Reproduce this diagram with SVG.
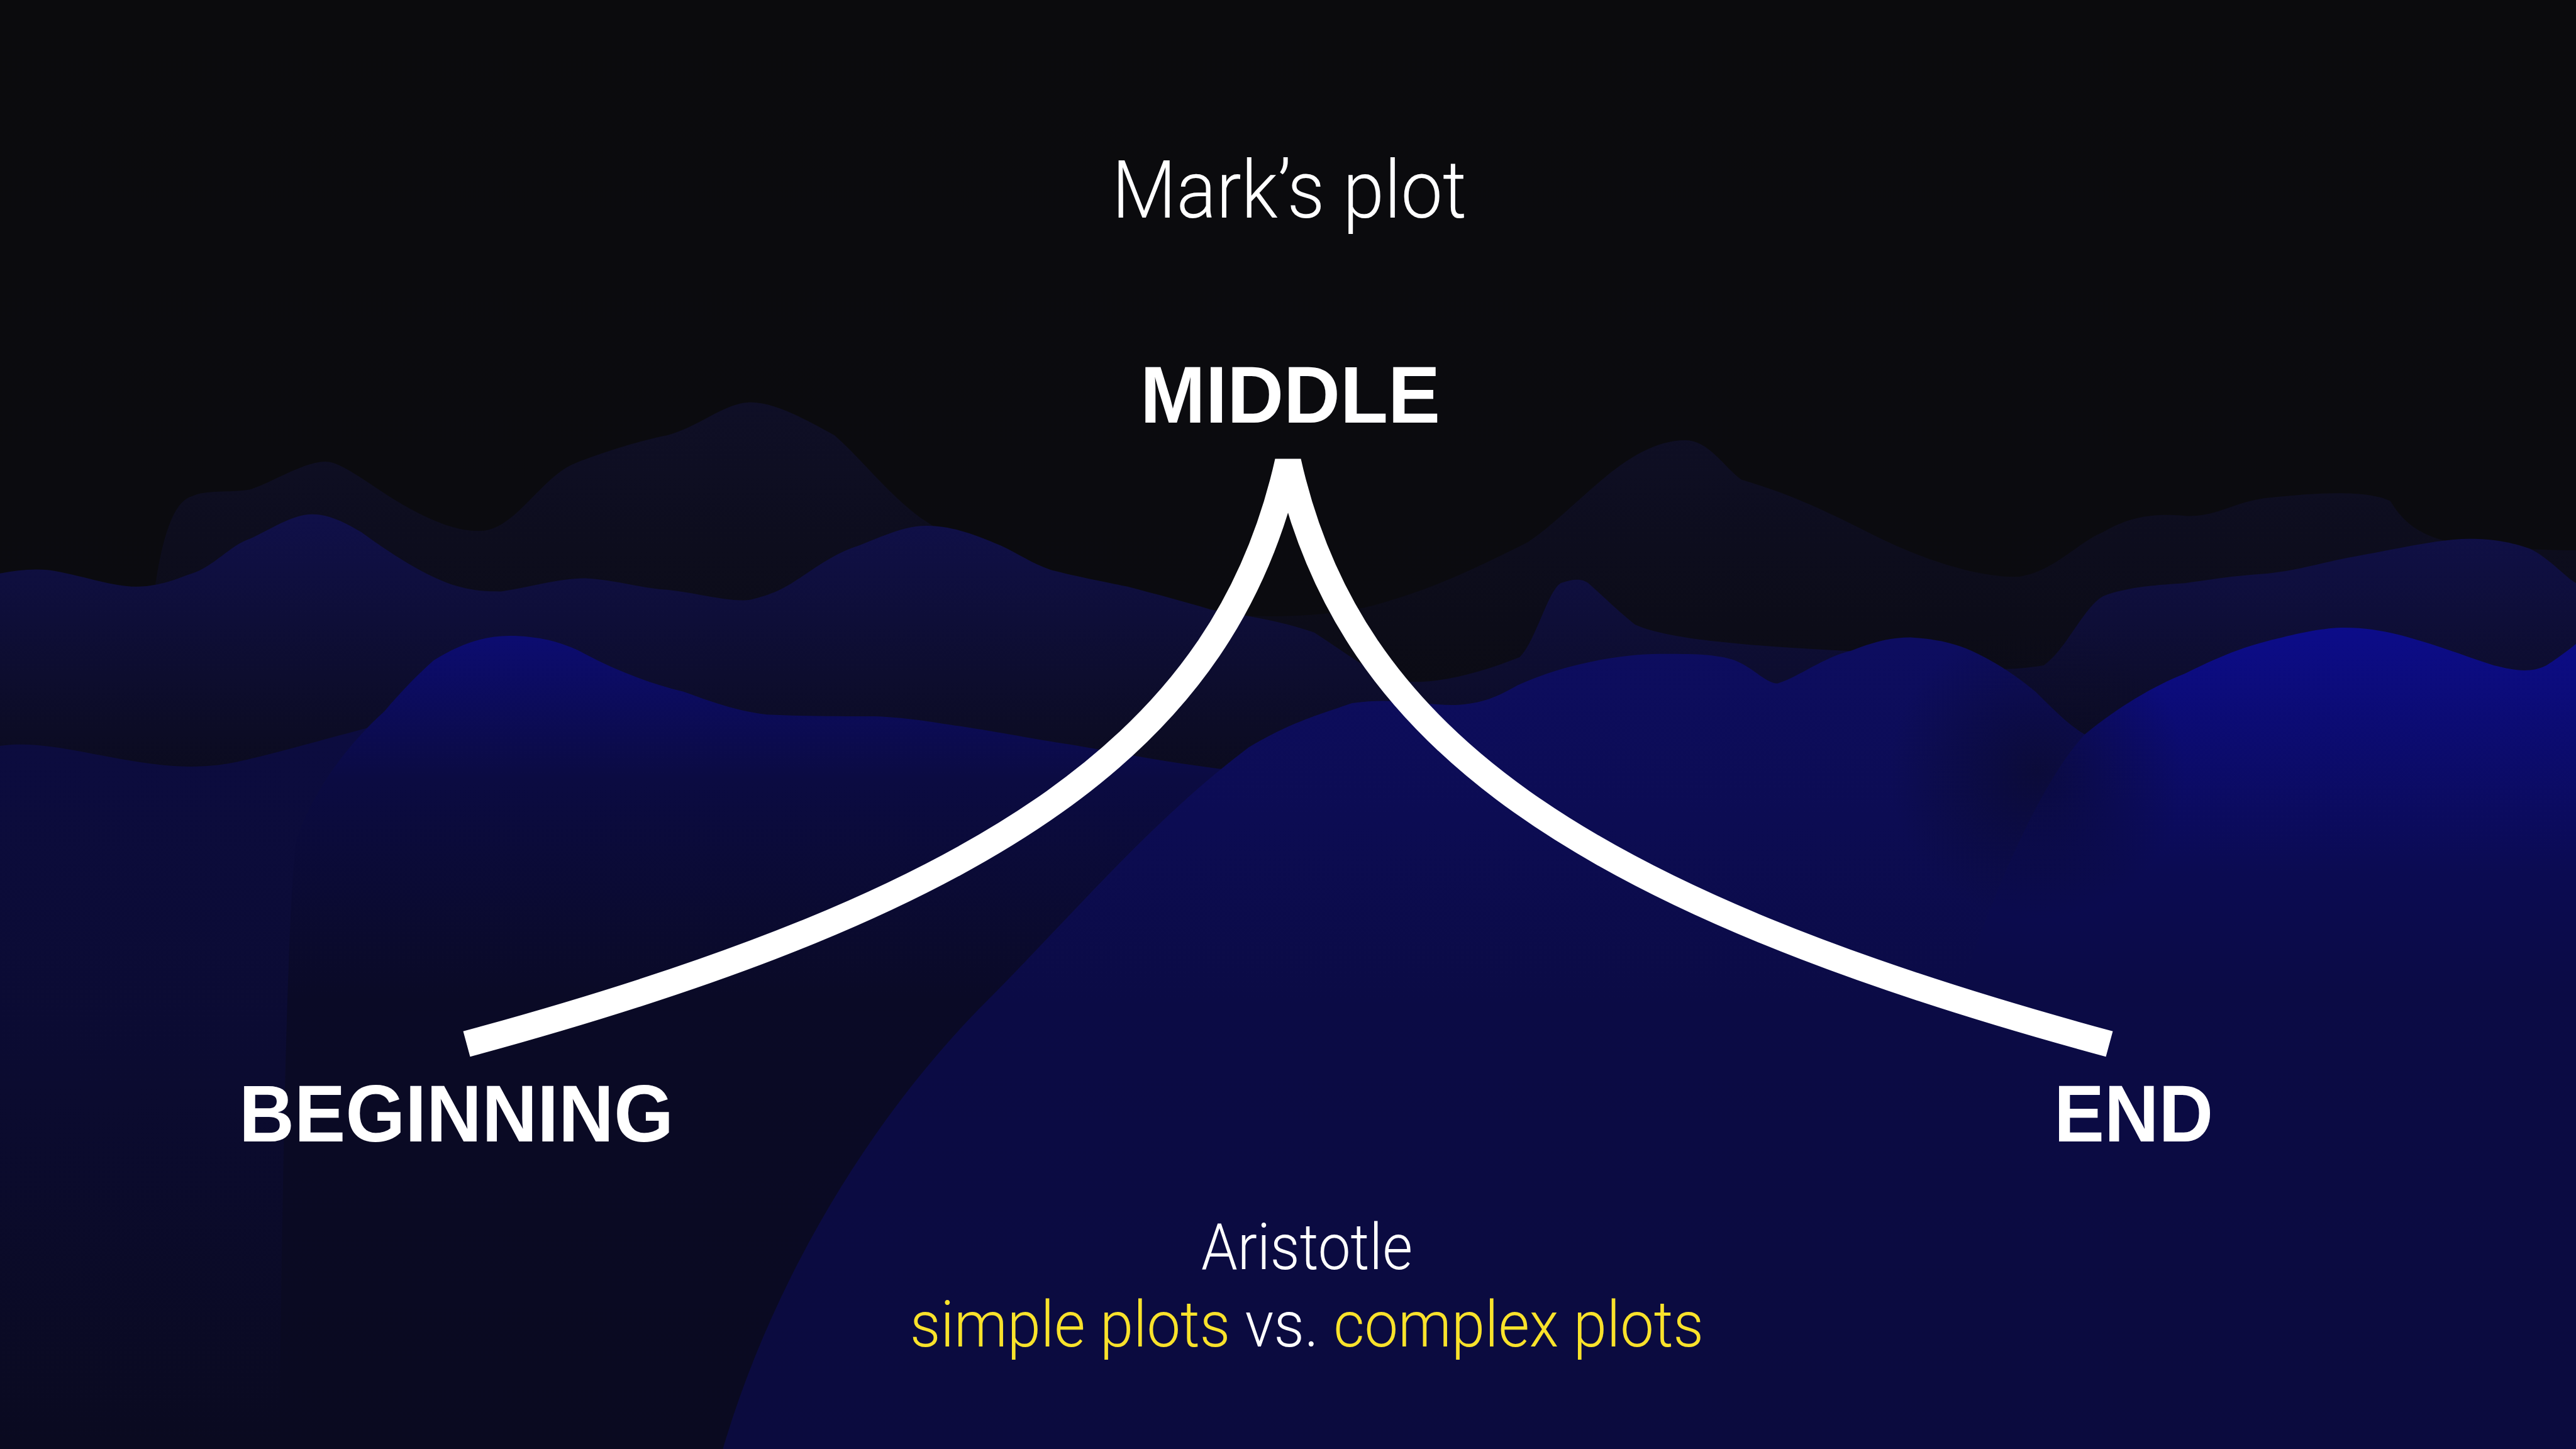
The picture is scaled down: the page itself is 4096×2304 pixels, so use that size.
<svg xmlns="http://www.w3.org/2000/svg" width="4096" height="2304" viewBox="0 0 4096 2304">
<defs>
<style>
.light{font-family:Roboto,Lato,"Liberation Sans",sans-serif;font-weight:300;fill:#ffffff}
.bold{font-family:"Liberation Sans",Arial,Helvetica,sans-serif;font-weight:700;fill:#ffffff}
.yellow{fill:#f9e22b}
.arc{fill:none;stroke:#ffffff;stroke-width:42;stroke-linejoin:bevel;stroke-linecap:butt}
</style>
<linearGradient id="gBg" gradientUnits="userSpaceOnUse" x1="0" y1="0" x2="0" y2="882">
<stop offset="0" stop-color="#0b0b0d"/><stop offset="0.5" stop-color="#0b0b10"/><stop offset="1" stop-color="#0a0a1e"/>
</linearGradient>
<linearGradient id="gFar" gradientUnits="userSpaceOnUse" x1="0" y1="240" x2="0" y2="430">
<stop offset="0" stop-color="#0f0f27"/><stop offset="1" stop-color="#0b0b13"/>
</linearGradient>
<linearGradient id="gMid" gradientUnits="userSpaceOnUse" x1="0" y1="310" x2="0" y2="480">
<stop offset="0" stop-color="#10104a"/><stop offset="1" stop-color="#0b0b1c"/>
</linearGradient>
<linearGradient id="gLeft" gradientUnits="userSpaceOnUse" x1="0" y1="440" x2="0" y2="882">
<stop offset="0" stop-color="#0c0c40"/><stop offset="1" stop-color="#0a0a20"/>
</linearGradient>
<linearGradient id="gBrightL" gradientUnits="userSpaceOnUse" x1="0" y1="385" x2="0" y2="882">
<stop offset="0" stop-color="#0c0c72"/><stop offset="0.18" stop-color="#0b0b42"/><stop offset="0.45" stop-color="#0a0a26"/><stop offset="1" stop-color="#0a0a20"/>
</linearGradient>
<linearGradient id="gMound" gradientUnits="userSpaceOnUse" x1="0" y1="390" x2="0" y2="882">
<stop offset="0" stop-color="#0d0d60"/><stop offset="0.45" stop-color="#0b0b45"/><stop offset="1" stop-color="#0b0b3e"/>
</linearGradient>
<linearGradient id="gBrightR" gradientUnits="userSpaceOnUse" x1="0" y1="380" x2="0" y2="882">
<stop offset="0" stop-color="#0c0c8a"/><stop offset="0.3" stop-color="#0b0b52"/><stop offset="0.45" stop-color="#0b0b45"/><stop offset="1" stop-color="#0b0b3e"/>
</linearGradient>
<radialGradient id="gValley" gradientUnits="userSpaceOnUse" cx="1240" cy="470" r="90">
<stop offset="0" stop-color="#0a0a22" stop-opacity="0.55"/><stop offset="1" stop-color="#0a0a22" stop-opacity="0"/>
</radialGradient>
</defs>

<g id="scene" transform="scale(2.6122449)">
<rect x="0" y="0" width="1568" height="882" fill="url(#gBg)"/>
<path id="layer-far" fill="url(#gFar)" d="M90,400 C95,330 105,305 117,302 C125,298 140,300 152,298 C165,294 185,281 198,281 C210,281 230,300 254,312 C270,320 282,324 295,323 C315,320 330,290 350,282 C365,276 390,268 406,265 C425,260 440,246 455,245 C470,244 490,255 508,265 C525,280 540,300 560,315 C590,335 620,350 660,360 C720,375 780,380 830,370 C870,360 900,345 930,330 C960,310 990,268 1026,268 C1040,268 1050,285 1060,292 C1080,298 1100,305 1137,324 C1160,336 1200,352 1229,351 C1250,348 1265,330 1280,324 C1295,315 1310,312 1330,314 C1350,315 1360,305 1381,303 C1410,300 1440,298 1455,305 C1465,322 1480,330 1508,332 C1530,334 1550,335 1568,335 L1568,882 L90,882 Z"/>
<path id="layer-mid" fill="url(#gMid)" d="M0,349 C10,347 20,346 30,347 C50,350 70,358 86,357 C100,356 108,352 117,349 C130,345 140,332 152,328 C165,322 178,313 190,313 C200,313 210,318 220,324 C235,335 260,352 279,357 C290,360 297,360 305,360 C320,358 340,352 356,352 C375,353 390,358 406,359 C425,361 445,367 457,365 C470,362 478,358 488,351 C500,343 510,336 523,332 C540,325 552,320 564,320 C580,320 595,326 609,332 C620,337 628,343 640,347 C660,352 672,354 686,357 C705,362 720,366 737,371 C760,375 780,378 800,385 C820,398 835,410 850,414 C870,418 900,410 925,400 C935,390 942,360 950,355 C958,352 964,352 968,356 C978,365 985,372 995,380 C1020,392 1100,395 1160,398 C1200,410 1225,408 1244,405 C1258,395 1268,370 1280,363 C1295,357 1315,356 1330,355 C1350,352 1365,350 1381,349 C1400,347 1415,342 1432,339 C1460,334 1485,328 1503,328 C1518,328 1528,330 1540,334 C1552,340 1560,350 1568,355 L1568,882 L0,882 Z"/>
<path id="layer-left" fill="url(#gLeft)" d="M0,454 C30,450 60,462 102,466 C125,468 140,465 152,462 C180,455 205,448 224,443 L300,440 L760,470 L760,882 L0,882 Z"/>
<path id="hill-left" fill="url(#gBrightL)" d="M170,882 C172,700 175,560 180,513 C190,480 215,450 234,433 C245,420 255,410 264,402 C280,392 295,387 310,387 C330,387 345,392 356,398 C375,408 395,416 416,421 C435,428 450,433 467,435 C490,436 510,436 533,436 C555,437 570,440 584,442 C610,446 630,450 650,453 C680,458 720,466 760,470 L760,882 Z"/>
<path id="mound" fill="url(#gMound)" d="M440,882 C470,780 530,680 600,610 C650,560 700,500 760,455 C785,440 800,436 823,428 C850,424 870,430 888,429 C905,428 915,422 924,417 C950,405 985,398 1010,398 C1030,398 1045,398 1056,402 C1068,407 1075,416 1082,416 C1095,412 1110,400 1127,396 C1140,391 1150,388 1163,388 C1180,389 1192,392 1204,398 C1218,405 1228,412 1239,421 C1250,432 1260,442 1269,447 L1568,447 L1568,882 Z"/>
<path id="hill-right" fill="url(#gBrightR)" d="M1120,882 C1160,680 1220,500 1269,447 C1290,430 1310,418 1330,410 C1350,400 1365,394 1381,390 C1400,385 1415,382 1427,382 C1445,382 1460,386 1473,390 C1490,395 1505,401 1518,405 C1530,408 1540,410 1550,405 C1558,400 1564,395 1568,392 L1568,882 Z"/>
<rect x="1100" y="380" width="300" height="200" fill="url(#gValley)"/>
</g>

<g id="connectors">
<path id="plot-arc" class="arc" d="M742,1660 C1590,1430 1950,1172 2048,734 C2146,1172 2506,1430 3354,1660"/>
</g>

<g id="title">
<text class="light" x="1768" y="346" font-size="128" textLength="564" lengthAdjust="spacingAndGlyphs">Mark’s plot</text>
</g>
<g id="node-middle">
<text class="bold" x="1813" y="672" font-size="128" textLength="477" lengthAdjust="spacingAndGlyphs">MIDDLE</text>
</g>
<g id="node-beginning">
<text class="bold" x="380" y="1815" font-size="128" textLength="691" lengthAdjust="spacingAndGlyphs">BEGINNING</text>
</g>
<g id="node-end">
<text class="bold" x="3266" y="1815" font-size="128" textLength="253" lengthAdjust="spacingAndGlyphs">END</text>
</g>
<g id="caption">
<text class="light" x="1910" y="2018" font-size="102" textLength="336" lengthAdjust="spacingAndGlyphs">Aristotle</text>
<text class="light" x="1447" y="2141" font-size="102" textLength="1262" lengthAdjust="spacingAndGlyphs"><tspan class="yellow">simple plots</tspan> vs. <tspan class="yellow">complex plots</tspan></text>
</g>
</svg>
